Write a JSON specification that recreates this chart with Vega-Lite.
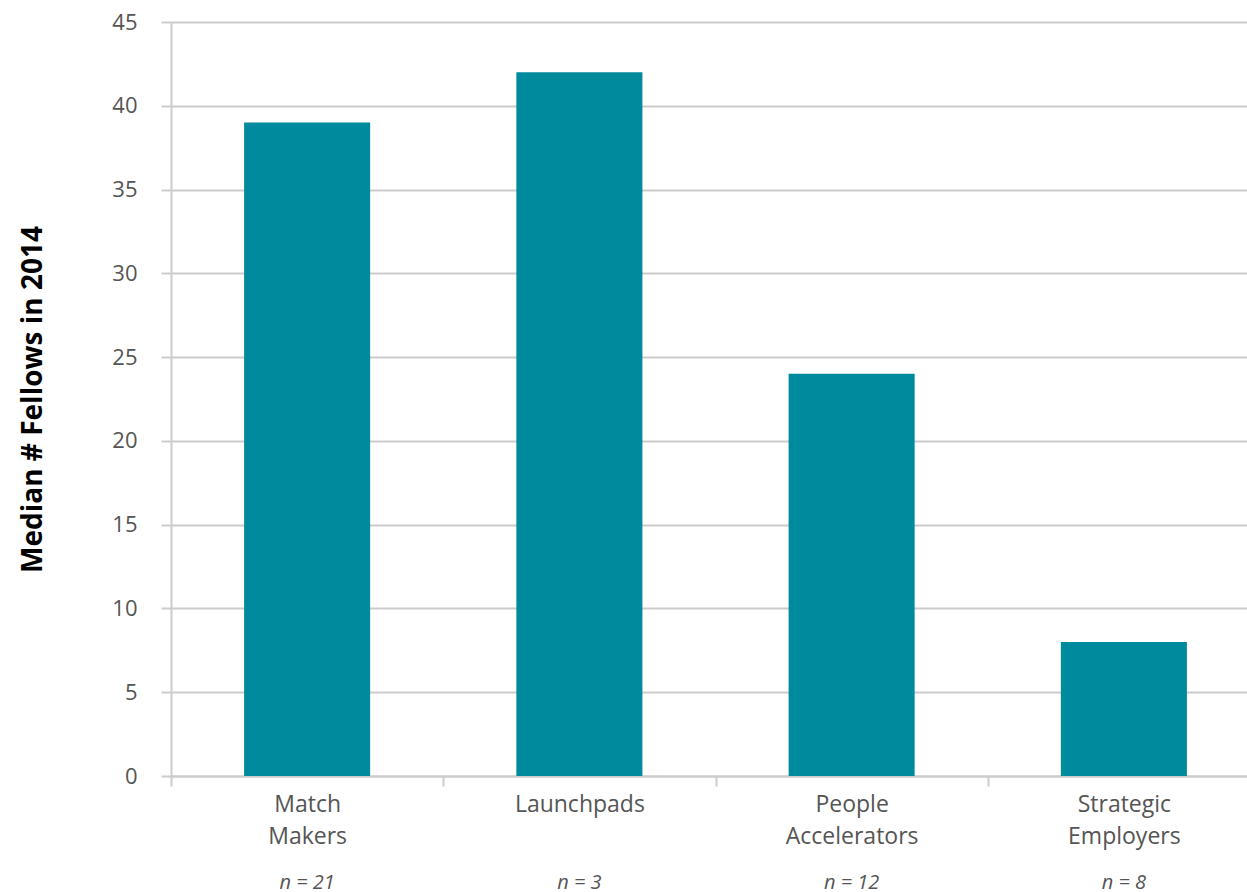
{
  "$schema": "https://vega.github.io/schema/vega-lite/v6.json",
  "width": 1076,
  "height": 754,
  "autosize": {"type": "none"},
  "padding": {"left": 171, "top": 22, "right": 0, "bottom": 116},
  "background": "white",
  "config": {
    "view": {"stroke": null},
    "font": "Open Sans"
  },
  "data": {
    "values": [
      {"cat": "Match Makers", "value": 39, "n": "n = 21"},
      {"cat": "Launchpads", "value": 42, "n": "n = 3"},
      {"cat": "People Accelerators", "value": 24, "n": "n = 12"},
      {"cat": "Strategic Employers", "value": 8, "n": "n = 8"}
    ]
  },
  "resolve": {"axis": {"x": "independent"}},
  "layer": [
    {
      "mark": {"type": "bar", "color": "#008a9e", "width": {"band": 0.463}},
      "encoding": {
        "x": {
          "field": "cat",
          "type": "nominal",
          "sort": null,
          "scale": {"paddingInner": 0, "paddingOuter": 0, "range": [0, 1089]},
          "axis": {
            "title": null,
            "orient": "bottom",
            "labelAngle": 0,
            "labelExpr": "split(datum.label, ' ')",
            "labelFontSize": 23,
            "labelColor": "#555555",
            "labelPadding": 7,
            "labelLineHeight": 32,
            "domainColor": "#cccccc",
            "domainWidth": 2,
            "tickColor": "#cccccc",
            "tickWidth": 2,
            "tickSize": 10,
            "tickBand": "extent",
            "grid": false
          }
        },
        "y": {
          "field": "value",
          "type": "quantitative",
          "scale": {"domain": [0, 45], "nice": false},
          "axis": {
            "title": "Median # Fellows in 2014",
            "titleFontSize": 28,
            "titleFontWeight": "bold",
            "titleColor": "#000000",
            "titlePadding": 64,
            "values": [0, 5, 10, 15, 20, 25, 30, 35, 40, 45],
            "labelFontSize": 22,
            "labelColor": "#555555",
            "labelPadding": 24,
            "domainColor": "#cccccc",
            "domainWidth": 2,
            "tickColor": "#cccccc",
            "tickWidth": 2,
            "tickSize": 10,
            "grid": true,
            "gridColor": "#cccccc",
            "gridWidth": 2
          }
        }
      }
    },
    {
      "mark": {"type": "bar", "opacity": 0},
      "encoding": {
        "x": {
          "field": "cat",
          "type": "nominal",
          "sort": null,
          "axis": {
            "title": null,
            "orient": "bottom",
            "labelAngle": 0,
            "labelExpr": "datum.label == 'Match Makers' ? 'n = 21' : datum.label == 'Launchpads' ? 'n = 3' : datum.label == 'People Accelerators' ? 'n = 12' : 'n = 8'",
            "labelFontSize": 20,
            "labelFontStyle": "italic",
            "labelColor": "#555555",
            "labelPadding": 96,
            "domain": false,
            "ticks": false,
            "grid": false
          }
        },
        "y": {"field": "value", "type": "quantitative"}
      }
    }
  ]
}
